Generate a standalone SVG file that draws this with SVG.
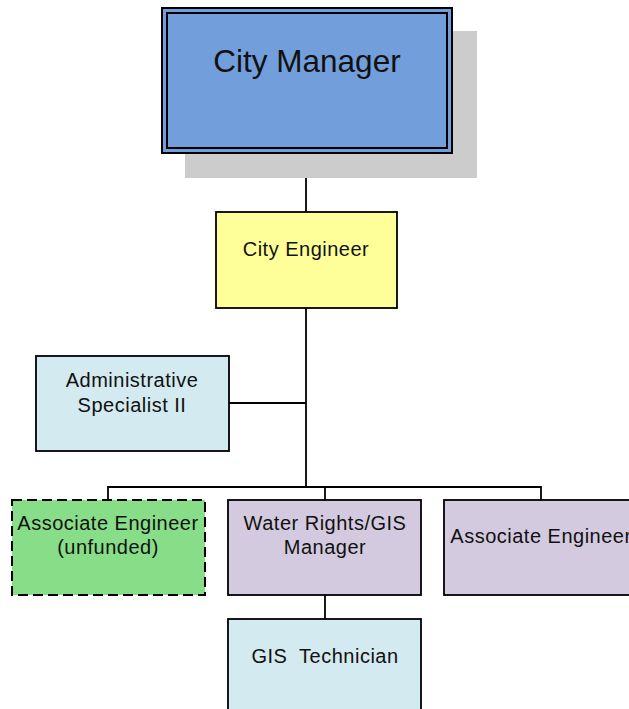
<svg xmlns="http://www.w3.org/2000/svg" width="629" height="709" viewBox="0 0 629 709">
  <style>
    .box { stroke: #000; stroke-width: 1.8; }
    .lbl { font-family: "Liberation Sans", Arial, sans-serif; font-size: 20px; letter-spacing: 0.5px; fill: #111; text-anchor: middle; white-space: pre; }
    .wire { fill: none; stroke: #000; stroke-width: 1.8; }
  </style>
  <rect width="629" height="709" fill="#fff"/>

  <!-- reporting lines -->
  <g id="connectors">
    <path class="wire" d="M306 153 V212"/>
    <path class="wire" d="M306 308 V487"/>
    <path class="wire" d="M229 403 H306"/>
    <path class="wire" d="M108 500 V487 H541 V500"/>
    <path class="wire" d="M325 487 V500"/>
    <path class="wire" d="M325 595 V619"/>
  </g>

  <g id="city-manager">
    <rect x="185" y="31" width="292" height="147" fill="#cccccc"/>
    <rect x="162" y="8" width="290" height="145" fill="#729fdb" stroke="#000" stroke-width="2"/>
    <rect x="167" y="13" width="280" height="135" fill="none" stroke="#000" stroke-width="2"/>
    <text class="lbl" x="307" y="72" style="font-size:31.5px;letter-spacing:0">City Manager</text>
  </g>

  <g id="city-engineer">
    <rect class="box" x="216" y="212" width="181" height="96" fill="#ffff99"/>
    <text class="lbl" x="306" y="256">City Engineer</text>
  </g>

  <g id="admin-specialist">
    <rect class="box" x="36" y="356" width="193" height="95" fill="#d3eaf0"/>
    <text class="lbl" x="132" y="387">Administrative</text>
    <text class="lbl" x="132" y="412">Specialist II</text>
  </g>

  <g id="assoc-engineer-unfunded">
    <rect x="12" y="500" width="193" height="95" fill="#88dd88" stroke="#000" stroke-width="2" stroke-dasharray="10 5"/>
    <text class="lbl" x="108" y="530">Associate Engineer</text>
    <text class="lbl" x="108" y="554">(unfunded)</text>
  </g>

  <g id="water-rights-gis-manager">
    <rect class="box" x="228" y="500" width="193" height="95" fill="#d4cae0"/>
    <text class="lbl" x="325" y="530">Water Rights/GIS</text>
    <text class="lbl" x="325" y="554">Manager</text>
  </g>

  <g id="assoc-engineer">
    <rect class="box" x="444" y="500" width="193" height="95" fill="#d4cae0"/>
    <text class="lbl" x="541" y="543">Associate Engineer</text>
  </g>

  <g id="gis-technician">
    <rect class="box" x="228" y="619" width="193" height="96" fill="#d3eaf0"/>
    <text class="lbl" x="325" y="663">GIS  Technician</text>
  </g>
</svg>
